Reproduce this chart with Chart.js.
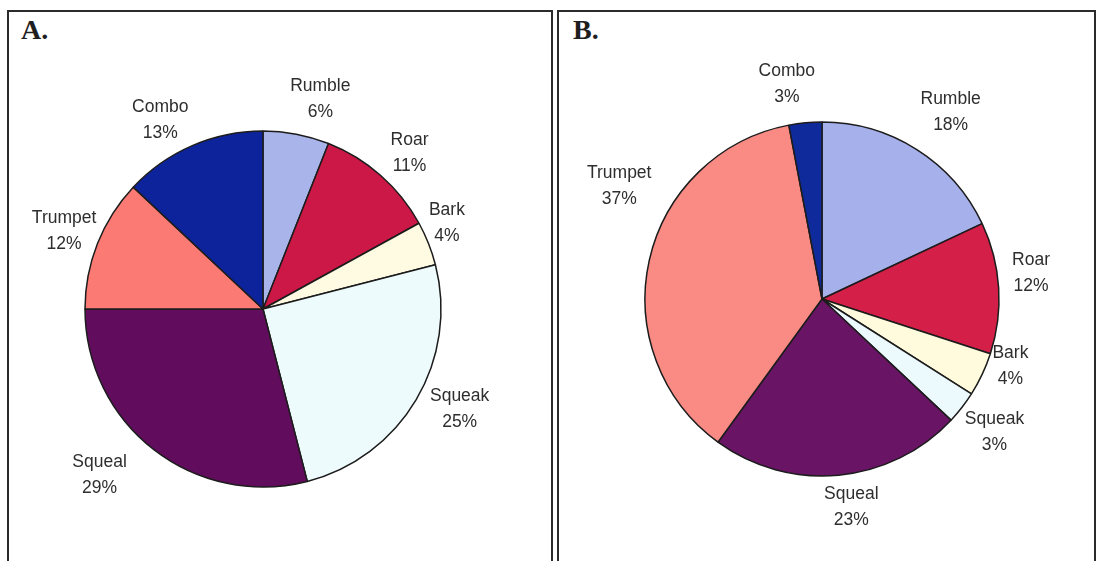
<!DOCTYPE html>
<html lang="en">
<head>
    <meta charset="UTF-8">
    <title>Elephant call types A / B</title>
    <script src="https://cdn.jsdelivr.net/npm/chart.js"></script>
    <style>
        html, body { margin: 0; padding: 0; background: #fff; overflow: hidden; }
        body { width: 1101px; height: 561px; position: relative; }
        .panel {
            position: absolute;
            top: 10px;
            height: 600px;
            border: 2px solid #2b2b2b;
            box-sizing: border-box;
        }
        #panelA { left: 7px; width: 546px; }
        #panelB { left: 557px; width: 539px; }
        .tag {
            position: absolute;
            top: 2px;
            font-family: "Liberation Serif", "DejaVu Serif", serif;
            font-weight: bold;
            font-size: 28px;
            color: #1e1e1e;
        }
        #panelA .tag { left: 12px; }
        #panelB .tag { left: 14px; }
        canvas { position: absolute; left: 0; top: 0; }
    </style>
</head>
<body>
    <div class="panel" id="panelA">
        <div class="tag">A.</div>
        <canvas id="chartA"></canvas>
    </div>
    <div class="panel" id="panelB">
        <div class="tag">B.</div>
        <canvas id="chartB"></canvas>
    </div>
    <script>
        // Categorias (em ordem horária a partir do topo)
        const callTypes = ['Rumble', 'Roar', 'Bark', 'Squeak', 'Squeal', 'Trumpet', 'Combo'];

        // Percentuais
        const valuesA = [6, 11, 4, 25, 29, 12, 13];
        const valuesB = [18, 12, 4, 3, 23, 37, 3];

        // Cores das fatias
        const colorsA = ['#a9b4ea', '#cc1846', '#fffbe3', '#eefbfc', '#620c5e', '#fb7a73', '#0c239c'];
        const colorsB = ['#a6b0ea', '#d41f48', '#fffbdc', '#ecfafd', '#6a1466', '#f98a84', '#0f2a9a'];

        // Ajuste dos rótulos: desvio angular (graus) e distância relativa ao raio
        const labelShiftA = [4.5, 1.9, -3.4, -3.6, 6.7, -0.2, -5.1];
        const labelDistA  = [1.22, 1.20, 1.14, 1.24, 1.31, 1.20, 1.21];
        const labelShiftB = [2.2, -3.5, -5.6, -0.2, -2.6, 16.4, -3.9];
        const labelDistB  = [1.28, 1.19, 1.13, 1.23, 1.19, 1.31, 1.23];

        // Plugin que escreve nome + percentual fora de cada fatia
        const outsideLabels = {
            id: 'outsideLabels',
            afterDatasetsDraw(chart, args, opts) {
                const ctx = chart.ctx;
                const meta = chart.getDatasetMeta(0);
                const values = chart.data.datasets[0].data;
                ctx.save();
                ctx.font = '17.5px "Liberation Sans", Arial, sans-serif';
                ctx.fillStyle = '#2e2e2e';
                ctx.textAlign = 'center';
                ctx.textBaseline = 'middle';
                meta.data.forEach((arc, i) => {
                    const p = arc.getProps(['x', 'y', 'startAngle', 'endAngle', 'outerRadius'], true);
                    const mid = (p.startAngle + p.endAngle) / 2 + opts.shift[i] * Math.PI / 180;
                    const r = p.outerRadius * opts.dist[i];
                    const x = p.x + Math.cos(mid) * r;
                    const y = p.y + Math.sin(mid) * r;
                    ctx.fillText(chart.data.labels[i], x, y - 13);
                    ctx.fillText(values[i] + '%', x, y + 13);
                });
                ctx.restore();
            }
        };

        function makePie(id, values, colors, shift, dist, w, h, cx, cy, radius) {
            const canvas = document.getElementById(id);
            canvas.width = w;
            canvas.height = h;
            canvas.style.width = w + 'px';
            canvas.style.height = h + 'px';
            const half = radius + 2;
            return new Chart(canvas.getContext('2d'), {
                type: 'pie',
                data: {
                    labels: callTypes,
                    datasets: [{
                        data: values,
                        backgroundColor: colors,
                        borderColor: '#1c1c1c',
                        borderWidth: 1.5
                    }]
                },
                options: {
                    responsive: false,
                    animation: false,
                    radius: radius,
                    layout: {
                        padding: { left: cx - half, right: w - cx - half, top: cy - half, bottom: h - cy - half }
                    },
                    plugins: {
                        legend: { display: false },
                        tooltip: { enabled: false },
                        outsideLabels: { shift: shift, dist: dist }
                    }
                },
                plugins: [outsideLabels]
            });
        }

        // Painel A: centro da pizza em (263, 309) na página; borda em (7, 10) + 2px
        makePie('chartA', valuesA, colorsA, labelShiftA, labelDistA, 542, 549, 263 - 9, 309 - 12, 178);
        // Painel B: centro em (822, 299); borda em (557, 10) + 2px
        makePie('chartB', valuesB, colorsB, labelShiftB, labelDistB, 535, 549, 822 - 559, 299 - 12, 177);
    </script>
</body>
</html>
